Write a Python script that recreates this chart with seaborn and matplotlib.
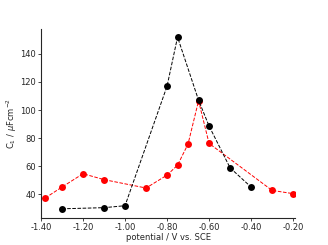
import matplotlib
matplotlib.use("Agg")

import matplotlib.pyplot as plt
import matplotlib.ticker as mticker
import seaborn as sns

sns.set_theme(style="ticks")
plt.rcParams.update({"font.family": "DejaVu Sans", "font.size": 6})

# black series
pot_black = [-1.30, -1.10, -1.00, -0.80, -0.75, -0.65, -0.60, -0.50, -0.40]
cap_black = [29.6, 30.4, 31.8, 117, 152, 107, 88.6, 58.8, 45.1]

# red series
pot_red = [-1.38, -1.30, -1.20, -1.10, -0.90, -0.80, -0.75, -0.70, -0.65, -0.60, -0.30, -0.20]
cap_red = [37.3, 45.1, 54.6, 50.4, 44.4, 53.6, 60.7, 75.8, 106.6, 76.2, 42.7, 40.4]

fig = plt.figure(figsize=(3.28, 2.45), dpi=100)
ax = fig.add_axes([0.125, 0.11, 0.775, 0.773])

sns.lineplot(x=pot_red, y=cap_red, ax=ax, color="red", linestyle="--",
             linewidth=0.7, marker="o", markersize=5, markeredgewidth=0)
sns.lineplot(x=pot_black, y=cap_black, ax=ax, color="black", linestyle="--",
             linewidth=0.7, marker="o", markersize=5, markeredgewidth=0)

ax.set_xlim(-1.40, -0.19)
ax.set_ylim(23, 158)
ax.xaxis.set_major_locator(mticker.MultipleLocator(0.2))
ax.xaxis.set_major_formatter(mticker.FormatStrFormatter("%.2f"))
ax.yaxis.set_major_locator(mticker.MultipleLocator(20))
ax.tick_params(labelsize=6, length=2.5, width=0.6, pad=1)
for s in ("left", "bottom"):
    ax.spines[s].set_linewidth(0.8)
sns.despine(ax=ax)

ax.set_xlabel("potential / V vs. SCE", fontsize=6)
ax.set_ylabel(r"C$_1$ / $\mu$Fcm$^{-2}$", fontsize=6)
ax.yaxis.set_label_coords(-0.085, 0.5)
ax.xaxis.set_label_coords(0.5, -0.078)

fig.savefig("out.png", dpi=100)
